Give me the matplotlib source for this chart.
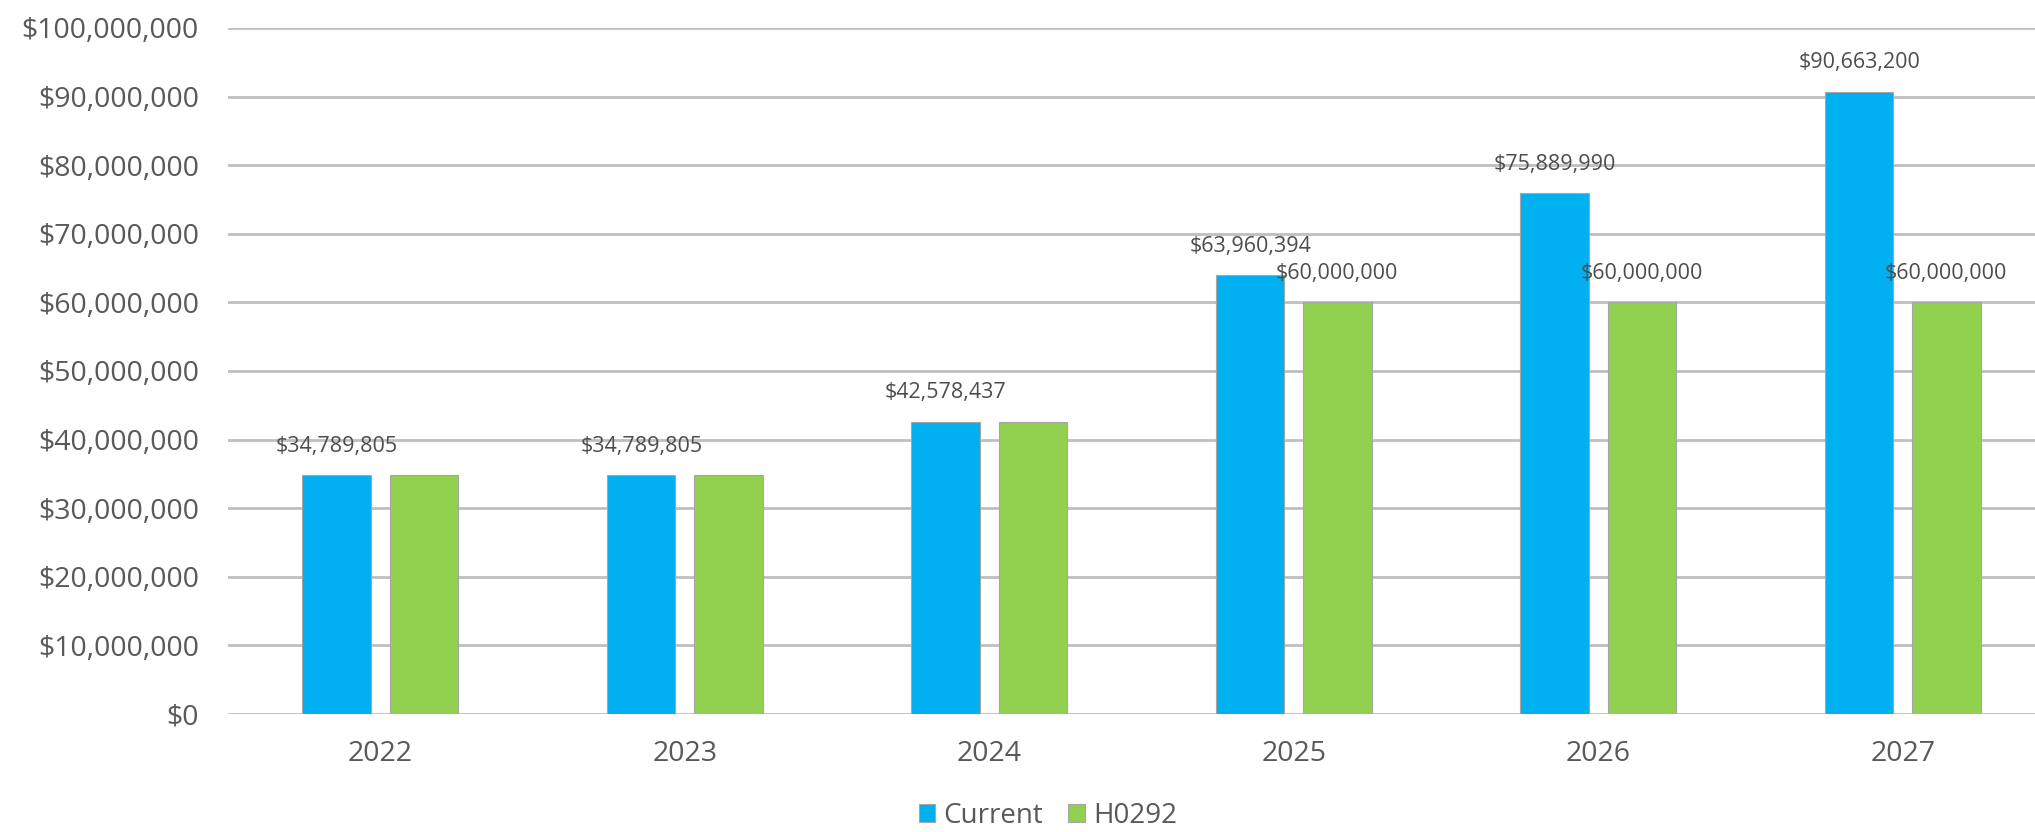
import matplotlib
matplotlib.use("Agg")
import matplotlib.pyplot as plt
import numpy as np

plt.rcParams['font.family'] = ['Open Sans', 'DejaVu Sans']

years = ['2022', '2023', '2024', '2025', '2026', '2027']
current = [34789805, 34789805, 42578437, 63960394, 75889990, 90663200]
h0292 = [34789805, 34789805, 42578437, 60000000, 60000000, 60000000]
# which H0292 values carry a label in the original
h0292_labelled = [False, False, False, True, True, True]

BLUE = '#00B0F0'
GREEN = '#92D050'
GRID = '#BFBFBF'
TEXT = '#595959'

W, H = 2035, 832
fig = plt.figure(figsize=(W / 100, H / 100), dpi=100)
left, bottom, top = 228 / W, (H - 714) / H, (H - 28) / H
ax = fig.add_axes([left, bottom, 1 - left, top - bottom])

x = np.arange(len(years))
bw = 0.225
off = 0.143
ax.bar(x - off, current, bw, color=BLUE, edgecolor='#A6A6A6', linewidth=0.8,
       label='Current', zorder=3)
ax.bar(x + off, h0292, bw, color=GREEN, edgecolor='#A6A6A6', linewidth=0.8,
       label='H0292', zorder=3)

for i, v in enumerate(current):
    ax.annotate(f'${v:,.0f}', (x[i] - off, v), xytext=(0, 21),
                textcoords='offset points', ha='center', va='center',
                fontsize=15.5, color='#4d4d4d', zorder=4)
for i, v in enumerate(h0292):
    if h0292_labelled[i]:
        ax.annotate(f'${v:,.0f}', (x[i] + off, v), xytext=(0, 21),
                    textcoords='offset points', ha='center', va='center',
                    fontsize=15.5, color='#4d4d4d', zorder=4)

ax.set_ylim(0, 100_000_000)
ax.set_yticks(np.arange(0, 100_000_001, 10_000_000))
ax.yaxis.set_major_formatter(matplotlib.ticker.FuncFormatter(lambda v, p: f'${v:,.0f}'))
ax.set_xlim(-0.5, -0.5 + (1 - left) * W / 304.5)
ax.set_xticks(x)
ax.set_xticklabels(years)
ax.grid(axis='y', color=GRID, linewidth=2, zorder=0)
ax.set_axisbelow(True)
for s in ax.spines.values():
    s.set_visible(False)
ax.tick_params(axis='both', length=0, labelsize=20.5, colors=TEXT)
ax.tick_params(axis='y', pad=21)
ax.tick_params(axis='x', pad=19)

fig.legend(loc='center', bbox_to_anchor=(0.515, (H - 816) / H), ncol=2, frameon=False,
           fontsize=20, labelcolor=TEXT, handlelength=0.6, handleheight=0.6,
           handletextpad=0.3, columnspacing=0.9)

fig.savefig('out.png', dpi=100, facecolor='white')
